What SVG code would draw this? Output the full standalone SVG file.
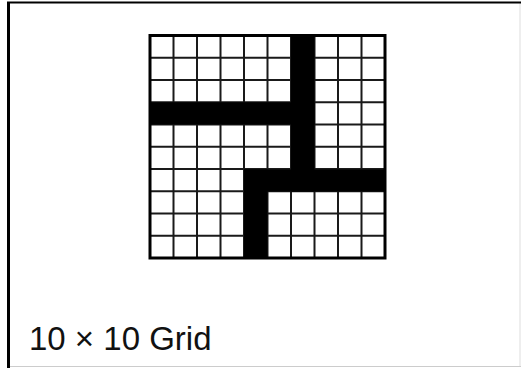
<svg xmlns="http://www.w3.org/2000/svg" width="521" height="368" viewBox="0 0 521 368">
<style>
.grid{stroke:#1a1a1a;stroke-width:2;fill:none}
.fill{fill:#000}
.label{font-family:"Liberation Sans",Arial,sans-serif;font-size:33px;fill:#111}
</style>
<rect x="0" y="0" width="521" height="368" fill="#fff"/>
<g id="frame">
<line x1="520" y1="2" x2="520" y2="366" stroke="#ddd" stroke-width="1"/>
<line x1="8" y1="366.5" x2="521" y2="366.5" stroke="#ccc" stroke-width="1"/>
<line x1="7" y1="2.5" x2="521" y2="2.5" stroke="#000" stroke-width="2"/>
<line x1="8.5" y1="2" x2="8.5" y2="368" stroke="#000" stroke-width="3"/>
</g>
<g id="grid">
<g class="grid">
<path d="M173.5 36V258M197 36V258M220.5 36V258M244 36V258M267.5 36V258M291 36V258M314.5 36V258M338 36V258M361.5 36V258"/>
<path d="M150 57.75H385M150 80H385M150 102.25H385M150 124.5H385M150 146.75H385M150 169H385M150 191.25H385M150 213.5H385M150 235.75H385"/>
</g>
<rect class="fill" x="150" y="102.25" width="164.5" height="22.25"/>
<rect class="fill" x="291" y="35.5" width="23.5" height="156"/>
<rect class="fill" x="244" y="169.5" width="141" height="22"/>
<rect class="fill" x="244" y="169.5" width="23.5" height="89"/>
<rect x="150" y="35.5" width="235" height="222.5" fill="none" stroke="#000" stroke-width="3"/>
</g>
<text class="label" x="29" y="350">10 × 10 Grid</text>
</svg>
